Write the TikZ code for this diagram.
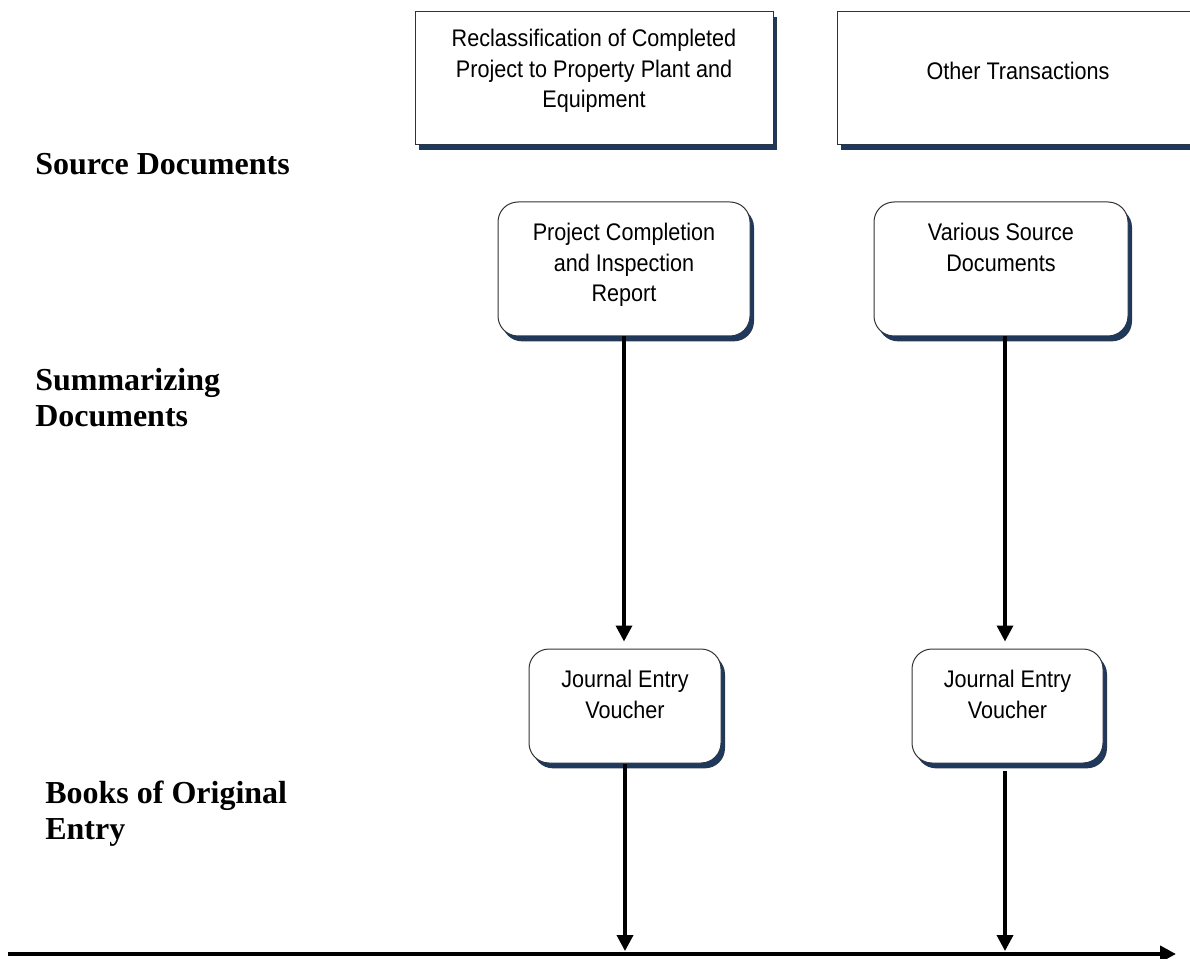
\documentclass[tikz,border=0pt]{standalone}
\usepackage{fontspec}
\setmainfont{Liberation Serif}
\newfontfamily\boxfont[FakeStretch=0.9]{Liberation Sans}
\usetikzlibrary{arrows.meta,shadows}
\definecolor{shadowblue}{RGB}{31,56,93}
\tikzset{
  sqbox/.style={draw=black!80, line width=0.75pt, fill=white, inner sep=0pt,
    drop shadow={shadow xshift=3pt, shadow yshift=-4pt, fill=shadowblue, opacity=1}},
  rbox/.style={sqbox, rounded corners=15pt},
  boxtext/.style={inner sep=0pt, align=center, font=\boxfont\fontsize{18}{22.9}\selectfont},
  lbl/.style={inner sep=0pt, align=left, font=\bfseries\fontsize{24}{27}\selectfont},
  conn/.style={line width=2.6pt, -{Triangle[length=12pt,width=12pt]}},
  axis/.style={line width=3pt, -{Triangle[length=12pt,width=12pt]}}
}
\begin{document}
\begin{tikzpicture}[x=0.75pt,y=-0.75pt]
\useasboundingbox (0,0) rectangle (1190,959);
% boxes
\node[sqbox, minimum width=268.5pt, minimum height=99.75pt] (rc) at (594,78.5) {};
\node[sqbox, minimum width=270pt, minimum height=99.75pt] (ot) at (1017,78.5) {};
\node[rbox, minimum width=189pt, minimum height=100.5pt] (pc) at (624,269) {};
\node[rbox, minimum width=190.5pt, minimum height=100.5pt] (vs) at (1001,269) {};
\node[rbox, minimum width=144pt, minimum height=85.5pt] (jl) at (625,706) {};
\node[rbox, minimum width=143.25pt, minimum height=85.5pt] (jr) at (1007.5,706) {};
% box texts
\node[boxtext, anchor=north] (rct) at (594,29) {Reclassification of Completed\\Project to Property Plant and\\Equipment};
\node[boxtext, anchor=north] (ott) at (1018,62) {Other Transactions};
\node[boxtext, anchor=north] (pct) at (624,223) {Project Completion\\and Inspection\\Report};
\node[boxtext, anchor=north] (vst) at (1001,223) {Various Source\\Documents};
\node[boxtext, anchor=north] (jlt) at (625,670) {Journal Entry\\Voucher};
\node[boxtext, anchor=north] (jrt) at (1007.5,670) {Journal Entry\\Voucher};
% side labels
\node[lbl, anchor=north west] (src) at (35,153) {Source Documents};
\node[lbl, anchor=north west] (sum) at (35,368) {Summarizing\\Documents};
\node[lbl, anchor=north west] (boe) at (45,781) {Books of Original\\Entry};
% coordinates
\coordinate (colR) at (1005,0);
\coordinate (hl0) at (8,954);
\coordinate (hl1) at (1176,954);
% connectors
\draw[conn, shorten >=5.25pt] (pc.south) -- (pc.south |- jl.north);
\draw[conn, shorten >=5.25pt] (vs.south -| colR) -- (jr.north -| colR);
\draw[conn, shorten >=2.2pt] (jl.south) -- (jl.south |- hl0);
\draw[conn, shorten <=5.25pt, shorten >=2.2pt] (jr.south -| colR) -- (colR |- hl0);
\draw[axis] (hl0) -- (hl1);
\end{tikzpicture}
\end{document}
